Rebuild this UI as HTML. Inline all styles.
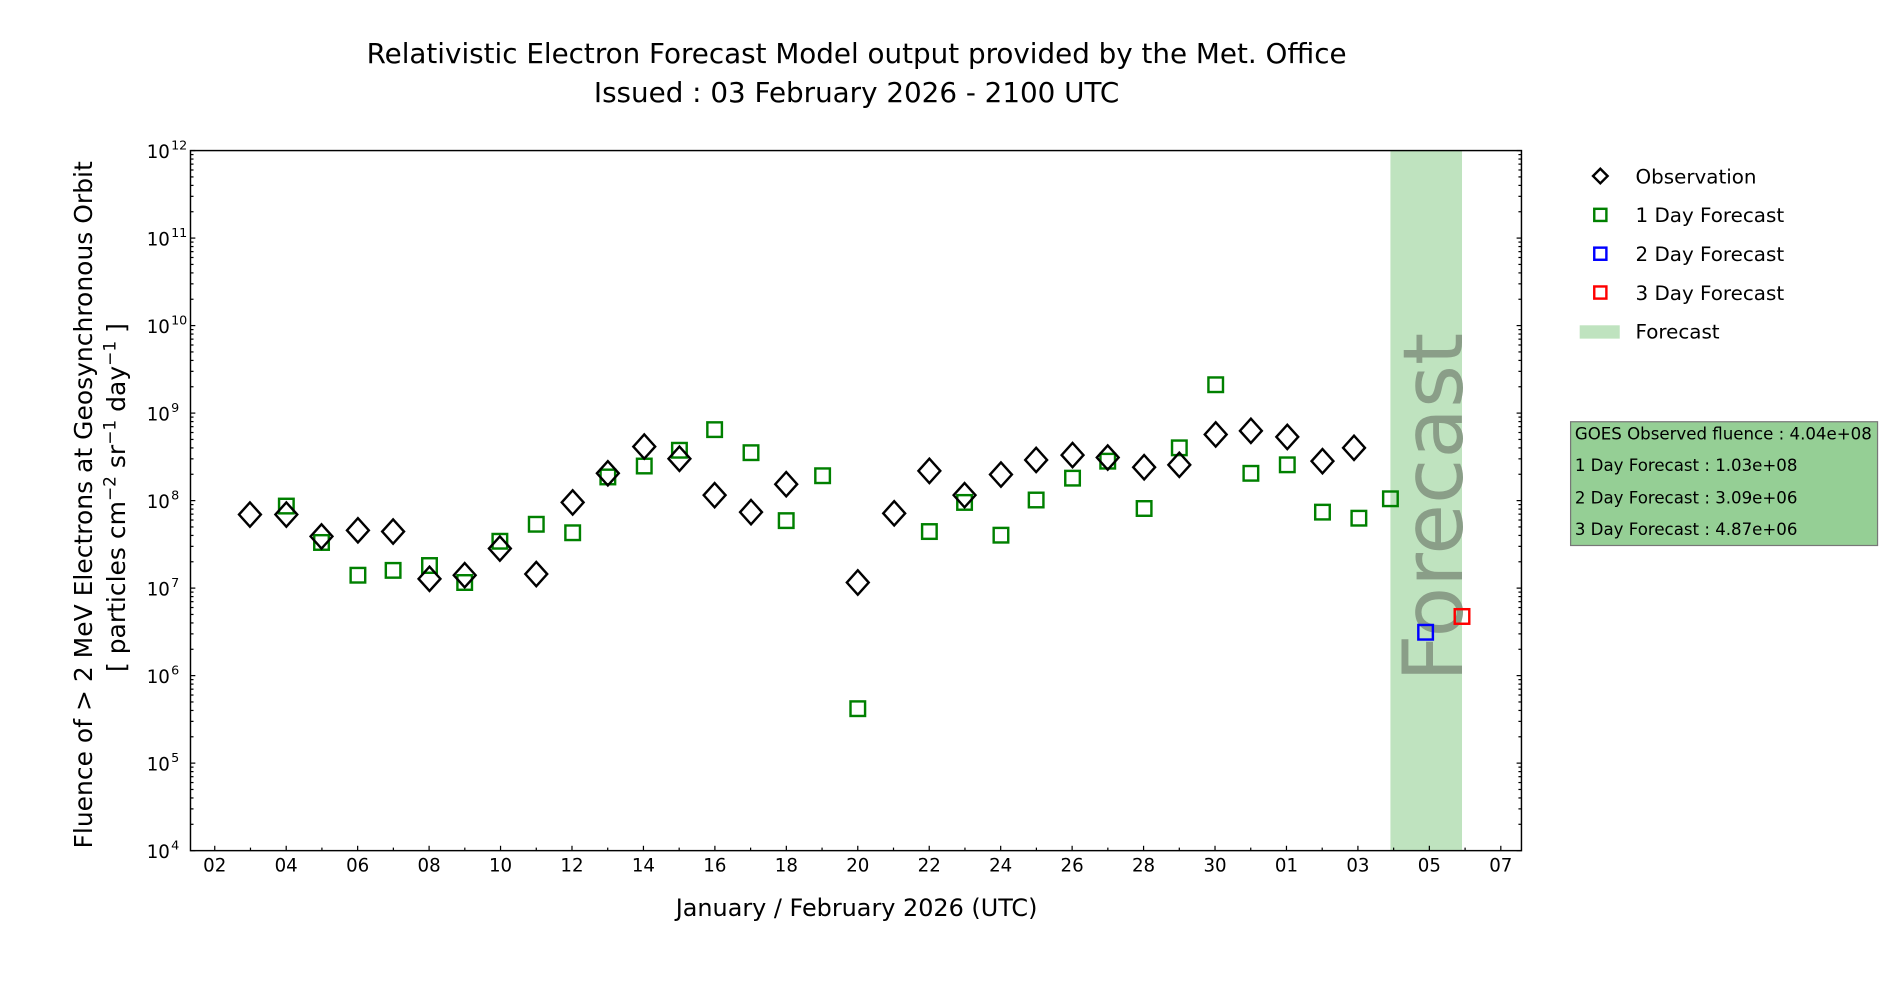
<!DOCTYPE html>
<html><head><meta charset="utf-8"><style>
html,body{margin:0;padding:0;background:#fff;}
svg{display:block;font-family:"DejaVu Sans","Liberation Sans",sans-serif;}
</style></head><body>
<svg id="s" width="1900" height="1000" viewBox="0 0 1566 824" xmlns="http://www.w3.org/2000/svg">
<rect x="0" y="0" width="1566" height="824" fill="#fff"/>
<text x="706" y="52" font-size="22.9" text-anchor="middle">Relativistic Electron Forecast Model output provided by the Met. Office</text>
<text x="706" y="84" font-size="22.9" text-anchor="middle">Issued : 03 February 2026 - 2100 UTC</text>
<rect x="1146" y="124" width="59" height="577" fill="#bfe3bf"/>
<text transform="translate(1205,418) rotate(-90)" font-size="68" fill="#8a9e88" text-anchor="middle">Forecast</text>
<g id="ticks" stroke="#000" stroke-width="1"></g>
<g id="marks" fill="none" stroke-width="2"></g>
<rect x="157" y="124" width="1097" height="577" fill="none" stroke="#000" stroke-width="1.2"/>
<g font-size="15" text-anchor="middle" id="xl"></g>
<g font-size="15" text-anchor="end" id="yl"></g>
<text x="706" y="755" font-size="19.7" text-anchor="middle">January / February 2026 (UTC)</text>
<text transform="translate(76,416) rotate(-90)" font-size="20.6" text-anchor="middle">Fluence of &gt; 2 MeV Electrons at Geosynchronous Orbit</text>
<text transform="translate(103,410) rotate(-90)" font-size="20.6" text-anchor="middle">[ particles cm<tspan font-size="14" dy="-8">−2</tspan><tspan dy="8"> sr</tspan><tspan font-size="14" dy="-8">−1</tspan><tspan dy="8"> day</tspan><tspan font-size="14" dy="-8">−1</tspan><tspan dy="8"> ]</tspan></text>
<g font-size="16.4">
<path d="M1319 139 L1325 145 L1319 151 L1313 145 Z" fill="none" stroke="#000" stroke-width="2"/>
<text x="1348" y="151">Observation</text>
<rect x="1314" y="172" width="10" height="10" fill="none" stroke="#008000" stroke-width="2"/>
<text x="1348" y="183">1 Day Forecast</text>
<rect x="1314" y="204" width="10" height="10" fill="none" stroke="#0000ff" stroke-width="2"/>
<text x="1348" y="215">2 Day Forecast</text>
<rect x="1314" y="236" width="10" height="10" fill="none" stroke="#ff0000" stroke-width="2"/>
<text x="1348" y="247">3 Day Forecast</text>
<rect x="1302" y="268" width="33" height="11" fill="#bfe3bf"/>
<text x="1348" y="279">Forecast</text>
</g>
<rect x="1294.5" y="347.5" width="253" height="102" fill="#95cf95" stroke="#777" stroke-width="1"/>
<g font-size="13.7">
<text x="1298" y="362">GOES Observed fluence : 4.04e+08</text>
<text x="1298" y="388">1 Day Forecast : 1.03e+08</text>
<text x="1298" y="415">2 Day Forecast : 3.09e+06</text>
<text x="1298" y="441">3 Day Forecast : 4.87e+06</text>
</g>
</svg>
<script>
var NS="http://www.w3.org/2000/svg";
function el(p,t,a,txt){var e=document.createElementNS(NS,t);for(var k in a)e.setAttribute(k,a[k]);if(txt!=null)e.textContent=txt;document.getElementById(p).appendChild(e);return e;}
function X(d){return 177+d*29.444;}
var T=124,B=701,dec=(B-T)/8;
var labs=["02","04","06","08","10","12","14","16","18","20","22","24","26","28","30","01","03","05","07"];
for(var d=0;d<=36;d++){var x=X(d);el("ticks","line",{x1:x,y1:B,x2:x,y2:B-(d%2==0?4:2.5)});}
for(var i=0;i<labs.length;i++){el("xl","text",{x:X(i*2),y:718},labs[i]);}
for(var k=0;k<=8;k++){var y=B-k*dec;
 el("ticks","line",{x1:157,y1:y,x2:161,y2:y});el("ticks","line",{x1:1254,y1:y,x2:1250,y2:y});
 if(k<8)for(var m=2;m<10;m++){var yy=y-Math.log10(m)*dec;el("ticks","line",{x1:157,y1:yy,x2:159.5,y2:yy});el("ticks","line",{x1:1254,y1:yy,x2:1251.5,y2:yy});}
 var t=el("yl","text",{x:140,y:y+6},"10");var s=document.createElementNS(NS,"tspan");s.setAttribute("font-size","10.5");s.setAttribute("dy","-7");s.setAttribute("x","141");s.setAttribute("text-anchor","start");s.textContent=String(k+4);t.appendChild(s);}
var obs=[[206,424],[236,424],[265,442],[295,437],[324,438],[354,477],[383,474],[412,452],[442,473],[472,414],[501,390],[531,368],[560,378],[589,408],[619,422],[648,399],[707,480],[737,423],[766,388],[795,408],[825,391],[854,379],[884,375],[913,377],[943,385],[972,383],[1002,358],[1031,355],[1061,360],[1090,380],[1116,369]];
var g1=[[236,417],[265,447],[295,474],[324,470],[354,466],[383,480],[412,446],[442,432],[472,439],[501,393],[531,384],[560,371],[589,354],[619,373],[648,429],[678,392],[707,584],[766,438],[795,414],[825,441],[854,412],[884,394],[913,380],[943,419],[972,369],[1002,317],[1031,390],[1061,383],[1090,422],[1120,427],[1146,411]];
g1.forEach(function(p){el("marks","rect",{x:p[0]-6,y:p[1]-6,width:12,height:12,stroke:"#008000"});});
obs.forEach(function(p){el("marks","path",{d:"M"+p[0]+" "+(p[1]-10)+" L"+(p[0]+9)+" "+p[1]+" L"+p[0]+" "+(p[1]+10)+" L"+(p[0]-9)+" "+p[1]+" Z",stroke:"#000"});});
el("marks","rect",{x:1169,y:515,width:12,height:12,stroke:"#0000ff"});
el("marks","rect",{x:1199,y:502,width:12,height:12,stroke:"#ff0000"});
</script>
</body></html>
